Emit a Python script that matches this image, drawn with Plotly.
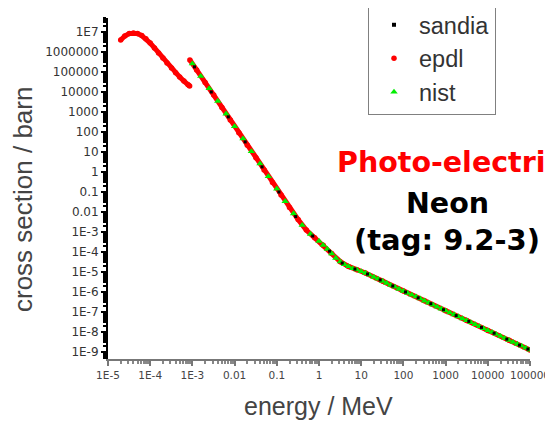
import plotly.graph_objects as go

# ---------------- data ----------------
# EPDL, below the K edge
epdl_low_energy = [2.0e-5, 2.5e-5, 3.2e-5, 4.0e-5, 5.0e-5, 6.3e-5, 7.9e-5, 1.0e-4,
                   1.26e-4, 1.58e-4, 2.0e-4, 2.5e-4, 3.2e-4, 4.0e-4, 5.0e-4, 6.3e-4,
                   7.9e-4, 8.6e-4]
epdl_low_xs = [4.0e6, 6.3e6, 8.3e6, 8.9e6, 8.3e6, 6.6e6, 4.6e6, 2.8e6,
               1.6e6, 8.9e5, 5.0e5, 2.8e5, 1.6e5, 9.3e4, 5.6e4, 3.5e4,
               2.3e4, 2.0e4]
# EPDL, above the K edge
epdl_high_energy = [8.7e-4, 1.26e-3, 2.0e-3, 3.2e-3, 5.0e-3, 7.9e-3, 0.0126, 0.02,
                    0.032, 0.05, 0.079, 0.126, 0.2, 0.32, 0.5, 0.79, 1.26, 2.0,
                    3.2, 5.0, 7.9, 12.6, 32, 100, 316, 1000, 3160, 1.0e4, 3.2e4, 1.0e5]
epdl_high_xs = [4.0e5, 1.26e5, 3.0e4, 7.1e3, 1.7e3, 4.0e2, 93, 22,
                5.2, 1.26, 0.3, 0.071, 0.017, 4.2e-3, 1.26e-3, 5.2e-4, 2.2e-4, 8.3e-5,
                3.3e-5, 1.9e-5, 1.3e-5, 8.9e-6, 3.5e-6, 1.12e-6, 3.6e-7, 1.17e-7, 3.8e-8,
                1.2e-8, 3.9e-9, 1.26e-9]

nist_energy = [1.0e-3, 1.58e-3, 2.5e-3, 4.0e-3, 6.3e-3, 0.01, 0.0158, 0.025, 0.04,
               0.063, 0.1, 0.158, 0.25, 0.4, 0.63,
               1.0, 1.26, 1.58, 2.0, 2.5, 3.2, 4.0, 5.0, 6.3, 7.9,
               10, 12.6, 15.8, 20, 25, 32, 40, 50, 63, 79,
               100, 126, 158, 200, 251, 316, 398, 501, 631, 794,
               1000, 1259, 1585, 1995, 2512, 3162, 3981, 5012, 6310, 7943,
               1.0e4, 1.26e4, 1.58e4, 2.0e4, 2.51e4, 3.16e4, 3.98e4, 5.01e4, 6.31e4, 7.94e4,
               1.0e5]
nist_xs = [2.6e5, 6.2e4, 1.5e4, 3.5e3, 8.1e2, 1.9e2, 46, 10.7, 2.6,
           0.6, 0.145, 0.034, 8.3e-3, 2.2e-3, 7.9e-4,
           3.5e-4, 2.2e-4, 1.4e-4, 8.3e-5, 5.0e-5, 3.3e-5, 2.4e-5, 1.9e-5, 1.5e-5, 1.3e-5,
           1.07e-5, 8.9e-6, 7.1e-6, 5.6e-6, 4.5e-6, 3.5e-6, 2.8e-6, 2.2e-6, 1.8e-6, 1.4e-6,
           1.12e-6, 8.9e-7, 7.1e-7, 5.8e-7, 4.6e-7, 3.6e-7, 2.9e-7, 2.3e-7, 1.8e-7, 1.45e-7,
           1.17e-7, 9.3e-8, 7.4e-8, 5.9e-8, 4.7e-8, 3.8e-8, 3.0e-8, 2.4e-8, 1.9e-8, 1.5e-8,
           1.2e-8, 9.8e-9, 7.8e-9, 6.2e-9, 4.9e-9, 3.9e-9, 3.1e-9, 2.5e-9, 2.0e-9, 1.6e-9,
           1.26e-9]

sandia_energy = [1.12e-3, 2.8e-3, 7.1e-3, 0.0178, 0.0447, 0.112, 0.28, 0.71, 1.78,
                 3.55, 7.1, 14.1, 28.2, 56, 112, 224, 447, 891, 1778, 3548, 7079,
                 14125, 28184, 56234, 89125]
sandia_xs = [1.8e5, 1.0e4, 5.7e2, 32, 1.8, 0.1, 5.9e-3, 6.3e-4, 1.1e-4,
             2.8e-5, 1.4e-5, 7.9e-6, 4.0e-6, 2.0e-6, 1.0e-6, 5.1e-7, 2.6e-7, 1.3e-7,
             6.6e-8, 3.4e-8, 1.7e-8, 8.7e-9, 4.4e-9, 2.2e-9, 1.4e-9]

x_tick_vals = [1e-5, 1e-4, 1e-3, 1e-2, 1e-1, 1, 10, 100, 1000, 1e4, 1e5]
x_tick_text = ["1E-5", "1E-4", "1E-3", "0.01", "0.1", "1", "10", "100", "1000", "10000", "100000"]
y_tick_vals = [1e7, 1e6, 1e5, 1e4, 1e3, 100, 10, 1, 0.1, 0.01, 1e-3, 1e-4, 1e-5, 1e-6,
               1e-7, 1e-8, 1e-9]
y_tick_text = ["1E7", "1000000", "100000", "10000", "1000", "100", "10", "1", "0.1", "0.01",
               "1E-3", "1E-4", "1E-5", "1E-6", "1E-7", "1E-8", "1E-9"]

RED = "#ff0000"
GREEN = "#00ee00"

fig = go.Figure()

# continuous red band for EPDL (broken at the K edge)
fig.add_trace(go.Scatter(
    x=epdl_low_energy + [None] + epdl_high_energy,
    y=epdl_low_xs + [None] + epdl_high_xs,
    mode="lines", line=dict(color=RED, width=5), showlegend=False, hoverinfo="skip"))

fig.add_trace(go.Scatter(
    x=[None], y=[None], name="sandia", mode="markers",
    marker=dict(color="black", size=4, symbol="square")))
fig.add_trace(go.Scatter(
    x=epdl_low_energy + epdl_high_energy, y=epdl_low_xs + epdl_high_xs, name="epdl",
    mode="markers", marker=dict(color=RED, size=5.5)))
fig.add_trace(go.Scatter(
    x=nist_energy, y=nist_xs, name="nist", mode="markers",
    marker=dict(color=GREEN, size=6.5, symbol="triangle-up")))
fig.add_trace(go.Scatter(
    x=sandia_energy, y=sandia_xs, mode="markers", showlegend=False,
    marker=dict(color="black", size=3, symbol="square")))

# the page body adds an 8px offset, so the figure is 8px smaller on each axis
W, H = 545, 415
L, T = 100, 10
PW, PH = 422, 341


def px_x(x):  # reference-pixel x -> paper coord
    return (x - 8 - L) / PW


def px_y(y):  # reference-pixel y -> paper coord
    return (T + PH - (y - 8)) / PH


fig.update_layout(
    width=W, height=H,
    margin=dict(l=L, r=W - L - PW, t=T, b=H - T - PH, autoexpand=False),
    paper_bgcolor="white", plot_bgcolor="white",
    showlegend=True,
    legend=dict(x=px_x(368), y=px_y(2), xanchor="left", yanchor="top",
                bordercolor="#808080", borderwidth=1, bgcolor="white",
                font=dict(family="Liberation Sans", size=23.5, color="#333333"),
                traceorder="normal", tracegroupgap=0, itemwidth=40),
)

fig.update_xaxes(
    type="log", range=[-5, 5], showgrid=False, zeroline=False, automargin=False,
    showline=True, linecolor="#777777", linewidth=2,
    ticks="outside", ticklen=5, tickcolor="#777777", tickwidth=1.5, tickangle=0,
    tickvals=x_tick_vals, ticktext=x_tick_text,
    tickfont=dict(family="DejaVu Sans", size=10.5, color="#444444"),
    minor=dict(ticks="outside", ticklen=3, tickcolor="#888888", dtick="D1", showgrid=False),
)
fig.update_yaxes(
    type="log", range=[-9.35, 7.7], showgrid=False, zeroline=False, automargin=False,
    showline=True, linecolor="black", linewidth=2,
    ticks="outside", ticklen=5, tickcolor="black", tickwidth=1.5,
    tickvals=y_tick_vals, ticktext=y_tick_text,
    tickfont=dict(family="DejaVu Sans", size=12, color="#333333"),
    minor=dict(ticks="outside", ticklen=3, tickcolor="black", dtick="D1", showgrid=False),
)

# axis titles
fig.add_annotation(text="cross section / barn", xref="paper", yref="paper",
                   x=px_x(23), y=px_y(200), xanchor="center", yanchor="middle", textangle=-90,
                   showarrow=False, font=dict(family="Liberation Sans", size=26, color="#444444"))
fig.add_annotation(text="energy / MeV", xref="paper", yref="paper",
                   x=px_x(318), y=px_y(406), xanchor="center", yanchor="middle",
                   showarrow=False, font=dict(family="Liberation Sans", size=25, color="#444444"))

# titles on the right
fig.add_annotation(text="<b>Photo-electric</b>", xref="paper", yref="paper",
                   x=px_x(449), y=px_y(163), xanchor="center", yanchor="middle",
                   showarrow=False, font=dict(family="DejaVu Sans", size=28.5, color=RED))
fig.add_annotation(text="<b>Neon</b>", xref="paper", yref="paper",
                   x=px_x(447), y=px_y(203), xanchor="center", yanchor="middle",
                   showarrow=False, font=dict(family="DejaVu Sans", size=28.5, color="black"))
fig.add_annotation(text="<b>(tag: 9.2-3)</b>", xref="paper", yref="paper",
                   x=px_x(447), y=px_y(240), xanchor="center", yanchor="middle",
                   showarrow=False, font=dict(family="DejaVu Sans", size=29, color="black"))

fig.write_html("out.html")
